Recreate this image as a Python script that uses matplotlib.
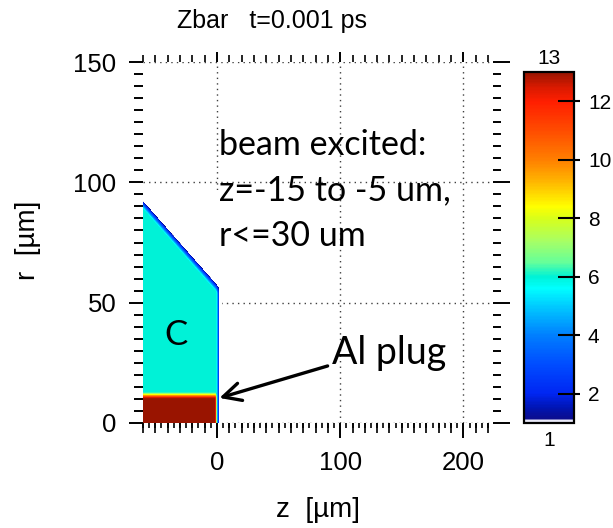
import numpy as np
import matplotlib
matplotlib.use("Agg")
import matplotlib.pyplot as plt
from matplotlib.colors import LinearSegmentedColormap
from matplotlib.ticker import MultipleLocator

plt.rcParams["font.family"] = ["Liberation Sans", "DejaVu Sans"]

# ---- target geometry (µm) and ionisation levels ----
carbon_top_z = [-60.0, 0.0]    # end points of the sloped carbon surface
carbon_top_r = [91.0, 56.0]
carbon_zmax = 0.8
plug_r = 11.5
plug_zmax = -1.0
zbar_carbon = 6.0
zbar_plug = 13.0

# cell-averaging widths at material interfaces (µm)
edge_width_r = 3.8
edge_width_z = 2.8
plug_width_r = 2.2

# simulation mesh nodes
z_nodes = np.arange(-61.0, 4.0, 0.5)
r_nodes = np.arange(0.0, 97.0, 0.5)

# axes / colour scale
x_limits = (-60, 224)
y_limits = (0, 150)
x_ticks = [0, 100, 200]
y_ticks = [0, 50, 100, 150]
cbar_ticks = [2, 4, 6, 8, 10, 12]
zbar_min, zbar_max = 1, 13

title_text = "Zbar   t=0.001 ps"
beam_note = "beam excited:\nz=-15 to -5 um,\nr<=30 um"

# ---- colour map ----
cmap_nodes = [
    (1.00, (1.00, 1.00, 1.00)),
    (1.08, (0.85, 0.85, 0.95)),
    (1.11, (0.05, 0.05, 0.55)),
    (1.50, (0.00, 0.08, 0.70)),
    (2.00, (0.00, 0.15, 0.95)),
    (3.00, (0.00, 0.30, 1.00)),
    (4.00, (0.00, 0.50, 1.00)),
    (5.00, (0.00, 0.80, 1.00)),
    (5.60, (0.00, 1.00, 1.00)),
    (6.00, (0.00, 0.95, 0.84)),
    (6.50, (0.40, 1.00, 0.60)),
    (7.20, (0.65, 1.00, 0.40)),
    (8.00, (0.85, 1.00, 0.10)),
    (8.40, (1.00, 1.00, 0.00)),
    (9.30, (1.00, 0.70, 0.00)),
    (10.0, (1.00, 0.50, 0.00)),
    (11.0, (1.00, 0.30, 0.00)),
    (12.0, (1.00, 0.12, 0.00)),
    (12.5, (0.85, 0.10, 0.00)),
    (13.0, (0.60, 0.08, 0.00)),
]
cmap = LinearSegmentedColormap.from_list(
    "zbar",
    [((v - zbar_min) / (zbar_max - zbar_min), c) for v, c in cmap_nodes],
)
cmap.set_under("white")


def fill_fraction(distance, width):
    """Fraction of a cell lying inside a material, given signed distance."""
    return np.clip(distance / width + 0.5, 0.0, 1.0)


# ---- Zbar field on the mesh ----
Z, R = np.meshgrid(z_nodes, r_nodes)
surface = np.interp(Z, carbon_top_z, carbon_top_r)
in_carbon = (fill_fraction(surface - R, edge_width_r)
             * fill_fraction(carbon_zmax - Z, edge_width_z))
in_plug = (fill_fraction(plug_r - R, plug_width_r)
           * fill_fraction(plug_zmax - Z, 1.0))
zbar = zbar_carbon * in_carbon + (zbar_plug - zbar_carbon) * in_plug

dz = z_nodes[1] - z_nodes[0]
dr = r_nodes[1] - r_nodes[0]

fig = plt.figure(figsize=(6.13, 5.28), dpi=100)
W, H = 613, 528
ax = fig.add_axes([143 / W, 105 / H, 350 / W, 361 / H])

im = ax.imshow(
    zbar, origin="lower", aspect="auto", cmap=cmap,
    vmin=zbar_min, vmax=zbar_max,
    extent=[z_nodes[0] - dz / 2, z_nodes[-1] + dz / 2,
            r_nodes[0] - dr / 2, r_nodes[-1] + dr / 2],
    interpolation="bilinear", interpolation_stage="data", zorder=2,
)

ax.set_xlim(*x_limits)
ax.set_ylim(*y_limits)
ax.set_xticks(x_ticks)
ax.set_yticks(y_ticks)
ax.xaxis.set_minor_locator(MultipleLocator(5))
ax.yaxis.set_minor_locator(MultipleLocator(5))
ax.grid(True, which="major", linestyle=(0, (1, 3)), color="0.25", linewidth=1.0)
ax.set_axisbelow(True)

ax.tick_params(axis="x", which="major", direction="out", length=11, width=1.4,
               labelsize=18.5, pad=9)
ax.tick_params(axis="x", which="minor", direction="out", length=3.6, width=1.2)
ax.tick_params(axis="y", which="major", direction="out", length=10, width=1.4,
               labelsize=18.5, pad=9)
ax.tick_params(axis="y", which="minor", direction="out", length=6.5, width=1.4)

# medium ticks every 10 µm along z
sec_bottom = ax.secondary_xaxis("bottom")
sec_bottom.set_xticks([v for v in range(-60, 225, 10) if v % 100])
sec_bottom.tick_params(direction="out", length=7, width=1.2, labelbottom=False)

sec_top = ax.secondary_xaxis("top")
sec_top.set_xticks(x_ticks)
sec_top.xaxis.set_minor_locator(MultipleLocator(10))
sec_top.tick_params(which="major", direction="out", length=7, width=1.4, labeltop=False)
sec_top.tick_params(which="minor", direction="out", length=5, width=1.2)

sec_right = ax.secondary_yaxis("right")
sec_right.set_yticks(y_ticks)
sec_right.yaxis.set_minor_locator(MultipleLocator(5))
sec_right.tick_params(which="major", direction="out", length=12, width=1.4, labelright=False)
sec_right.tick_params(which="minor", direction="out", length=5.8, width=1.4)

for a in (ax, sec_bottom, sec_top, sec_right):
    for s in a.spines.values():
        s.set_visible(False)

# labels and title
fig.text(272 / W, 1 - 21 / H, title_text, ha="center", va="center", fontsize=18)
fig.text(318 / W, 1 - 510 / H, "z  [µm]", ha="center", va="center", fontsize=20)
fig.text(28 / W, 1 - 240 / H, "r  [µm]", ha="center", va="center", fontsize=20,
         rotation=90)

# annotations
note_font = ["Lato", "DejaVu Sans"]
ax.text(2, 96.5, beam_note, ha="left", va="center", fontsize=24.5,
        linespacing=1.52, family=note_font, zorder=5)
ax.text(-33, 36.6, "C", ha="center", va="center", fontsize=25,
        family=note_font, zorder=5)
ax.text(93, 29.0, "Al plug", ha="left", va="center", fontsize=27,
        family=note_font, zorder=5)
ax.annotate("", xy=(2.0, 10.4), xytext=(89.8, 23.7),
            arrowprops=dict(arrowstyle="->", lw=2.4, color="black",
                            shrinkA=0, shrinkB=0, mutation_scale=32),
            zorder=5)

# colour bar
cax = fig.add_axes([524 / W, 105 / H, 50 / W, 351 / H])
cb = fig.colorbar(im, cax=cax, ticks=cbar_ticks)
cb.outline.set_linewidth(1.6)
cax.tick_params(direction="in", length=11.5, width=1.5, labelsize=15, pad=10)
cax_out = cax.secondary_yaxis("right")
cax_out.set_yticks(cbar_ticks)
cax_out.tick_params(direction="out", length=4.3, width=1.5, labelright=False)
for s in cax_out.spines.values():
    s.set_visible(False)
fig.text(549 / W, 1 - 58 / H, str(zbar_max), ha="center", va="center", fontsize=15)
fig.text(549 / W, 1 - 440 / H, str(zbar_min), ha="center", va="center", fontsize=15)

fig.savefig("out.png", dpi=100)
